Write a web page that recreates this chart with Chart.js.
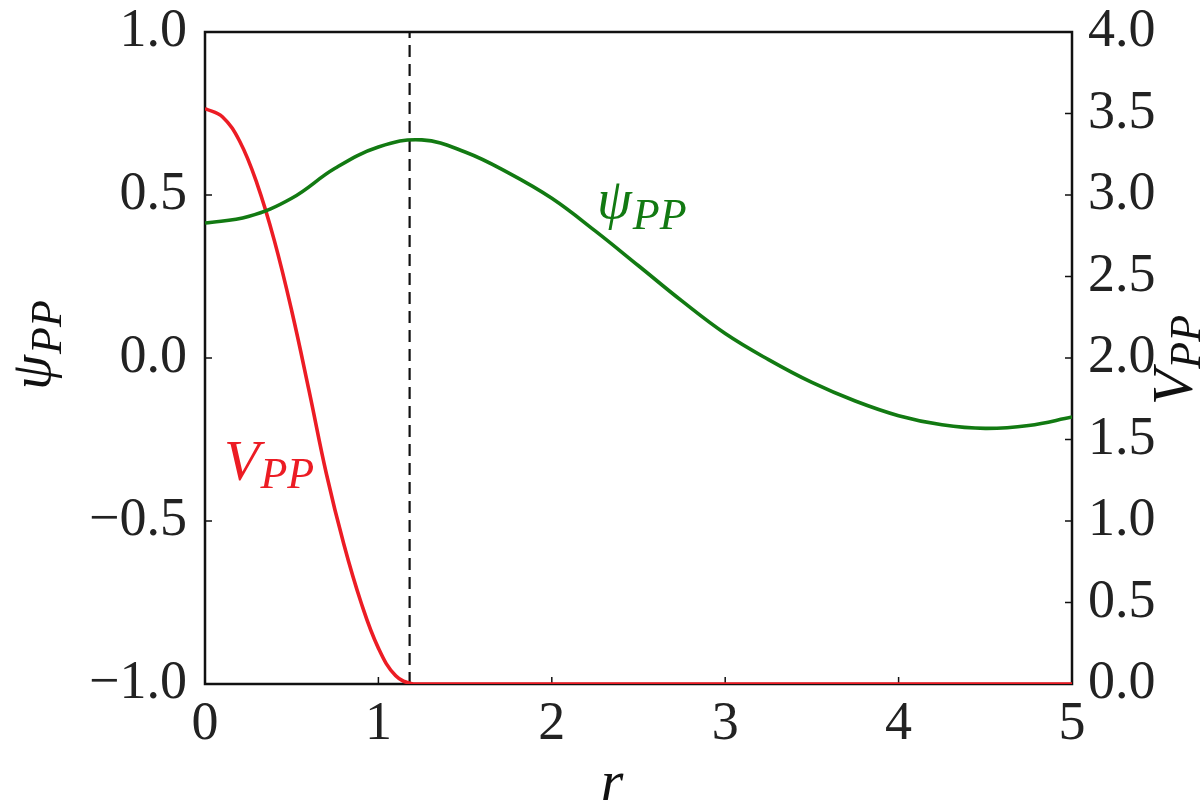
<!DOCTYPE html>
<html><head><meta charset="utf-8">
<script src="https://cdn.jsdelivr.net/npm/chart.js@4/dist/chart.umd.min.js"></script>
<style>html,body{margin:0;padding:0;background:#fff}canvas{display:block}</style>
</head><body>
<canvas id="c" width="1202" height="801"></canvas>
<script>
// ---- data ----
const rPsi = [0, 0.25, 0.5, 0.75, 1.0, 1.25, 1.5, 1.75, 2.0, 2.25, 2.5, 2.75, 3.0, 3.25, 3.5, 3.75, 4.0, 4.25, 4.5, 4.75, 5.0];
const psiValues = [0.414, 0.434, 0.49, 0.582, 0.647, 0.669, 0.632, 0.568, 0.49, 0.39, 0.283, 0.175, 0.075, -0.005, -0.075, -0.132, -0.177, -0.205, -0.216, -0.207, -0.181];
const rV = [0, 0.1, 0.2, 0.3, 0.4, 0.5, 0.6, 0.7, 0.8, 0.9, 1.0, 1.1, 1.2, 1.3, 1.5, 2.0, 2.5, 3.0, 3.5, 4.0, 4.5, 5.0];
const vValues = [3.53, 3.48, 3.33, 3.07, 2.72, 2.29, 1.80, 1.29, 0.86, 0.50, 0.22, 0.05, 0, 0, 0, 0, 0, 0, 0, 0, 0, 0];
const rCut = 1.18;
const xTicks = [0, 1, 2, 3, 4, 5];
const psiTicks = [-1.0, -0.5, 0.0, 0.5, 1.0];
const vTicks = [0.0, 0.5, 1.0, 1.5, 2.0, 2.5, 3.0, 3.5, 4.0];

const FONT = "'Liberation Serif', 'DejaVu Serif', serif";
const RED = '#ec1c24';
const GREEN = '#127a12';

function fmt(v) {
  const s = Math.abs(v).toFixed(1);
  return v < 0 ? '\u2212' + s : s;
}

function drawSub(ctx, main, sub, x, y, color, mainSize, subSize, drop) {
  ctx.fillStyle = color;
  ctx.textBaseline = 'alphabetic';
  ctx.textAlign = 'left';
  ctx.font = 'italic ' + mainSize + 'px ' + FONT;
  const w = ctx.measureText(main).width;
  ctx.fillText(main, x, y);
  ctx.font = 'italic ' + subSize + 'px ' + FONT;
  ctx.fillText(sub, x + w + 1, y + drop);
}
function subWidth(ctx, main, sub, mainSize, subSize) {
  ctx.font = 'italic ' + mainSize + 'px ' + FONT;
  const a = ctx.measureText(main).width;
  ctx.font = 'italic ' + subSize + 'px ' + FONT;
  return a + 1 + ctx.measureText(sub).width;
}

const decor = {
  id: 'decor',
  beforeDatasetsDraw(chart) {
    const {ctx, chartArea: a} = chart;
    ctx.save();
    ctx.strokeStyle = '#111';
    ctx.lineWidth = 2.5;
    ctx.strokeRect(a.left, a.top, a.right - a.left, a.bottom - a.top);
    const L = 7;
    ctx.lineWidth = 1.5;
    ctx.beginPath();
    const sx = chart.scales.x, sy = chart.scales.y, sy2 = chart.scales.y2;
    xTicks.forEach(v => { const p = sx.getPixelForValue(v); ctx.moveTo(p, a.bottom); ctx.lineTo(p, a.bottom - L); });
    psiTicks.forEach(v => { const p = sy.getPixelForValue(v); ctx.moveTo(a.left, p); ctx.lineTo(a.left + L, p); });
    vTicks.forEach(v => { const p = sy2.getPixelForValue(v); ctx.moveTo(a.right, p); ctx.lineTo(a.right - L, p); });
    ctx.stroke();
    ctx.restore();
  },
  afterDraw(chart) {
    const {ctx} = chart;
    ctx.save();
    // in-plot labels
    drawSub(ctx, '\u03C8', 'PP', 597, 218, GREEN, 56, 44, 11);
    drawSub(ctx, 'V', 'PP', 224, 480, RED, 58, 44, 8);
    // left axis title (rotated)
    ctx.save();
    ctx.translate(50, 345);
    ctx.rotate(-Math.PI / 2);
    const w1 = subWidth(ctx, '\u03C8', 'PP', 56, 44);
    drawSub(ctx, '\u03C8', 'PP', -w1 / 2, 0, '#111', 56, 44, 11);
    ctx.restore();
    // right axis title (rotated)
    ctx.save();
    ctx.translate(1192, 360);
    ctx.rotate(-Math.PI / 2);
    const w2 = subWidth(ctx, 'V', 'PP', 58, 44);
    drawSub(ctx, 'V', 'PP', -w2 / 2, 0, '#111', 58, 44, 8);
    ctx.restore();
    // x axis title
    ctx.fillStyle = '#111';
    ctx.font = 'italic 58px ' + FONT;
    ctx.textAlign = 'center';
    ctx.textBaseline = 'alphabetic';
    ctx.fillText('r', 612, 800);
    ctx.restore();
  }
};

const tickFont = {family: FONT, size: 54};
function noPad(s) { s.paddingTop = 0; s.paddingBottom = 0; s.paddingLeft = 0; s.paddingRight = 0; }

new Chart(document.getElementById('c'), {
  type: 'line',
  data: {
    datasets: [
      {
        label: 'psi',
        data: rPsi.map((r, i) => ({x: r, y: psiValues[i]})),
        yAxisID: 'y',
        borderColor: GREEN, borderWidth: 3.6, pointRadius: 0,
        tension: 0.4, fill: false
      },
      {
        label: 'V',
        data: rV.map((r, i) => ({x: r, y: vValues[i]})),
        yAxisID: 'y2',
        borderColor: RED, borderWidth: 3.6, pointRadius: 0,
        tension: 0.4, fill: false
      },
      {
        label: 'rc',
        data: [{x: rCut, y: -1}, {x: rCut, y: 1}],
        yAxisID: 'y',
        borderColor: '#111', borderWidth: 2.2, borderDash: [12, 7], pointRadius: 0, fill: false
      }
    ]
  },
  options: {
    responsive: false,
    animation: false,
    events: [],
    layout: {padding: {top: 32, left: 0, right: 0, bottom: 0}},
    plugins: {legend: {display: false}, tooltip: {enabled: false}},
    scales: {
      x: {
        type: 'linear', min: 0, max: 5,
        grid: {display: false}, border: {display: false},
        afterBuildTicks: s => { s.ticks = xTicks.map(v => ({value: v})); },
        afterFit: s => { s.height = 117; noPad(s); },
        ticks: {font: tickFont, color: '#222', padding: 0, maxRotation: 0, autoSkip: false,
                callback: v => String(v)}
      },
      y: {
        type: 'linear', position: 'left', min: -1, max: 1,
        grid: {display: false}, border: {display: false},
        afterBuildTicks: s => { s.ticks = psiTicks.map(v => ({value: v})); },
        afterFit: s => { s.width = 205; noPad(s); },
        ticks: {font: tickFont, color: '#222', padding: 10, autoSkip: false, callback: v => fmt(v)}
      },
      y2: {
        type: 'linear', position: 'right', min: 0, max: 4,
        grid: {display: false}, border: {display: false},
        afterBuildTicks: s => { s.ticks = vTicks.map(v => ({value: v})); },
        afterFit: s => { s.width = 130; noPad(s); },
        ticks: {font: tickFont, color: '#222', padding: 8, autoSkip: false, callback: v => fmt(v)}
      }
    }
  },
  plugins: [decor]
});
</script>
</body></html>
